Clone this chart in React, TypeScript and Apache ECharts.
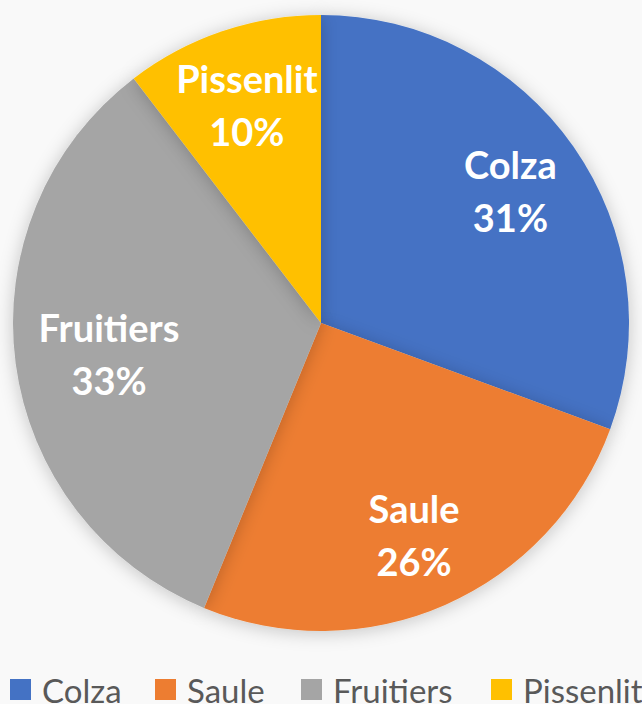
import React, { useEffect, useRef } from "react";
import * as echarts from "echarts";

const categories = ["Colza", "Saule", "Fruitiers", "Pissenlit"];
const values = [30.6, 25.6, 33.4, 10.4];
const colors = ["#4472C4", "#ED7D31", "#A5A5A5", "#FFC000"];
const legendLeft = [10, 155, 301, 491];

export default function App() {
  const ref = useRef<HTMLDivElement>(null);
  useEffect(() => {
    if (!ref.current) return;
    const chart = echarts.init(ref.current, undefined, { renderer: "svg" });
    const data = categories.map((c, i) => ({ name: c, value: values[i], itemStyle: { color: colors[i] } }));
    chart.setOption({
      animation: false,
      backgroundColor: "#f9f9f9",
      legend: categories.map((c, i) => ({
        data: [c],
        left: legendLeft[i],
        top: 673,
        padding: 0,
        itemWidth: 21,
        itemHeight: 21,
        icon: "rect",
        textStyle: { fontFamily: "Lato", fontSize: 33, lineHeight: 33, color: "#595959", padding: [0, 0, 0, 6] },
        selectedMode: false,
      })),
      series: [
        {
          type: "pie",
          center: [321, 323],
          radius: [0, 308],
          startAngle: 90,
          clockwise: true,
          silent: true,
          label: { show: false },
          labelLine: { show: false },
          itemStyle: { shadowBlur: 18, shadowColor: "rgba(0,0,0,0.22)", shadowOffsetX: 0, shadowOffsetY: 2 },
          data,
        },
        {
          type: "pie",
          center: [321, 323],
          radius: [148, 308],
          startAngle: 90,
          clockwise: true,
          silent: true,
          percentPrecision: 0,
          itemStyle: { color: "rgba(0,0,0,0)" },
          label: {
            show: true,
            position: "inside",
            formatter: "{b}\n{d}%",
            color: "#ffffff",
            fontFamily: "Lato",
            fontWeight: "bold",
            fontSize: 38,
            lineHeight: 53,
          },
          labelLine: { show: false },
          data: categories.map((c, i) => ({
            name: c,
            value: values[i],
            label: c === "Fruitiers" ? { padding: [0, 0, 0, 34] } : undefined,
          })),
        },
      ],
    });
    return () => chart.dispose();
  }, []);
  return <div ref={ref} style={{ position: "fixed", left: 0, top: 0, width: 642, height: 704 }} />;
}
